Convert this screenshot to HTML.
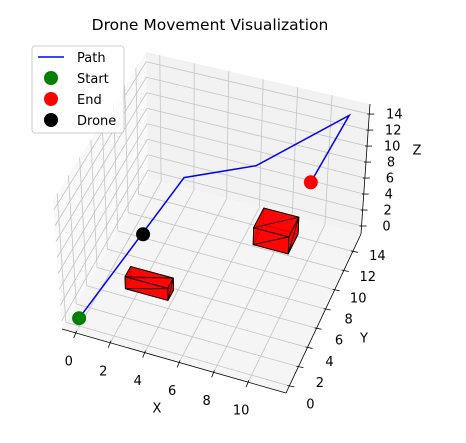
<!DOCTYPE html>
<html><head><meta charset="utf-8"><style>
html,body{margin:0;padding:0;background:#fff;}
svg{display:block;font-family:"DejaVu Sans","Liberation Sans",sans-serif;}
</style></head><body>
<svg id="chart" width="466" height="443" viewBox="0 0 466 443" xmlns="http://www.w3.org/2000/svg">
<text x="210" y="30" font-size="15.5" text-anchor="middle" fill="#000">Drone Movement Visualization</text>
<g id="panes"></g>
<g id="grid"></g>
<g id="axes"></g>
<g id="data"></g>
<g>
<rect x="32" y="46" width="92" height="87" rx="3" fill="#fff" fill-opacity="0.85" stroke="#ccc" stroke-width="1"/>
<line x1="38" y1="57" x2="64" y2="57" stroke="#0000ff" stroke-width="1.5"/>
<text x="77" y="62" font-size="13">Path</text>
<circle cx="51" cy="78" r="7" fill="#008000"/>
<text x="77" y="83" font-size="13">Start</text>
<circle cx="51" cy="99" r="7" fill="#ff0000"/>
<text x="77" y="104" font-size="13">End</text>
<circle cx="51" cy="120" r="7" fill="#000"/>
<text x="77" y="125" font-size="13">Drone</text>
</g>
</svg>
<script>
const xTicks=[0,2,4,6,8,10];
const yTicks=[0,2,4,6,8,10,12,14];
const zTicks=[0,2,4,6,8,10,12,14];
const pathX=[0,3.2,7,11.2,10];
const pathY=[0,10,11.3,15.2,12];
const pathZ=[0,8,10,14,8.7];
const startPt=[0,0,0];
const endPt=[10,12,8.7];
const dronePt=[2,6,4.8];
const obstacleMin=[[1.5,4.0,0],[6.9,11.4,0]];
const obstacleSize=[[2.5,1.1,1.5],[2.1,2.1,2.1]];

const X0=-0.8,X1=12.2,Y0=-0.74,Y1=15.8,Z0=-1.0,Z1=15.26;
const C={'000':[62,329],'100':[286,393],'010':[148,178],'110':[361,234],
'001':[53,200],'101':[290,252],'011':[146,52],'111':[370,104]};
function P(x,y,z){
 const u=(x-X0)/(X1-X0),v=(y-Y0)/(Y1-Y0),w=(z-Z0)/(Z1-Z0);
 let px=0,py=0;
 for(const a of [0,1])for(const b of [0,1])for(const c of [0,1]){
  const wt=(a?u:1-u)*(b?v:1-v)*(c?w:1-w);const p=C[''+a+b+c];px+=wt*p[0];py+=wt*p[1];}
 return [px,py];
}
const NS='http://www.w3.org/2000/svg';
function mk(tag,attrs,parent){const e=document.createElementNS(NS,tag);for(const k in attrs)e.setAttribute(k,attrs[k]);parent.appendChild(e);return e;}
function pts(a){return a.map(p=>p[0].toFixed(1)+','+p[1].toFixed(1)).join(' ');}
const panes=document.getElementById('panes'),grid=document.getElementById('grid'),axes=document.getElementById('axes'),data=document.getElementById('data');
let e;
e=mk('polygon',{points:pts([P(X0,Y0,Z0),P(X0,Y1,Z0),P(X0,Y1,Z1),P(X0,Y0,Z1)]),fill:'#f9f9f9'},panes);


e=mk('polygon',{points:pts([P(X0,Y1,Z0),P(X1,Y1,Z0),P(X1,Y1,Z1),P(X0,Y1,Z1)]),fill:'#f2f2f2'},panes);


e=mk('polygon',{points:pts([P(X0,Y0,Z0),P(X1,Y0,Z0),P(X1,Y1,Z0),P(X0,Y1,Z0)]),fill:'#f5f5f5'},panes);


function gl(a,b){const l=mk('line',{x1:a[0],y1:a[1],x2:b[0],y2:b[1],stroke:'#c4c4c4','stroke-width':0.8},grid);
 
 }
xTicks.forEach(x=>{gl(P(x,Y0,Z0),P(x,Y1,Z0));gl(P(x,Y1,Z0),P(x,Y1,Z1));});
yTicks.forEach(y=>{gl(P(X0,y,Z0),P(X1,y,Z0));gl(P(X0,y,Z0),P(X0,y,Z1));});
zTicks.forEach(z=>{gl(P(X0,Y1,z),P(X1,Y1,z));gl(P(X0,Y0,z),P(X0,Y1,z));});
function al(a,b,name){const l=mk('line',{x1:a[0],y1:a[1],x2:b[0],y2:b[1],stroke:'#000','stroke-width':0.8},axes);
 
 }
al(P(X0,Y0,Z0),P(X1,Y0,Z0),'x-axis-line');
al(P(X1,Y0,Z0),P(X1,Y1,Z0),'y-axis-line');
al(P(X1,Y1,Z0),P(X1,Y1,Z1),'z-axis-line');
function tick(p,dx,dy,name){const l=mk('line',{x1:p[0]-dx*0.4,y1:p[1]-dy*0.4,x2:p[0]+dx,y2:p[1]+dy,stroke:'#000','stroke-width':0.8},axes);
 
 }
function lab(x,y,s,name){const t=mk('text',{x:x,y:y+4.5,'font-size':13,'text-anchor':'middle',fill:'#000'},axes);t.textContent=s;
 
 }
xTicks.forEach(x=>{const p=P(x,Y0,Z0);tick(p,-2,5,'x-tick');lab(p[0]-7,p[1]+28,String(x),'x-tick-label');});
yTicks.forEach(y=>{const p=P(X1,y,Z0);tick(p,5,1,'y-tick');lab(p[0]+21+y*0.25,p[1]+18-y*1.0,String(y),'y-tick-label');});
zTicks.forEach(z=>{const p=P(X1,Y1,z);tick(p,5,0,'z-tick');lab(p[0]+25,p[1],String(z),'z-tick-label');});
lab(157,408,'X','x-axis-title');lab(364,338,'Y','y-axis-title');lab(417,150,'Z','z-axis-title');
obstacleMin.forEach((m,i)=>{
 const s=obstacleSize[i];const xa=m[0],ya=m[1],za=m[2],xb=m[0]+s[0],yb=m[1]+s[1],zb=m[2]+s[2];
 const faces=[
  [[xa,ya,za],[xb,ya,za],[xb,yb,za],[xa,yb,za]],
  [[xa,yb,za],[xb,yb,za],[xb,yb,zb],[xa,yb,zb]],
  [[xb,ya,za],[xb,yb,za],[xb,yb,zb],[xb,ya,zb]],
  [[xa,ya,za],[xa,yb,za],[xa,yb,zb],[xa,ya,zb]],
  [[xa,ya,za],[xb,ya,za],[xb,ya,zb],[xa,ya,zb]],
  [[xa,ya,zb],[xb,ya,zb],[xb,yb,zb],[xa,yb,zb]]];
 const g=mk('g',{},data);
 
 
 faces.forEach(f=>{const q=f.map(c=>P(c[0],c[1],c[2]));
  const pg=mk('polygon',{points:pts(q),fill:'#ff0000','fill-opacity':0.85,stroke:'#000','stroke-width':0.9,'stroke-linejoin':'round'},g);
  
  
  const d=mk('line',{x1:q[0][0],y1:q[0][1],x2:q[2][0],y2:q[2][1],stroke:'#000','stroke-width':0.8},g);
  
  });
});
const pp=pathX.map((x,i)=>P(x,pathY[i],pathZ[i]));
e=mk('polyline',{points:pts(pp),fill:'none',stroke:'#0000ff','stroke-width':1.5},data);


function dot(pt,col,name){const p=P(pt[0],pt[1],pt[2]);const c=mk('circle',{cx:p[0],cy:p[1],r:7,fill:col},data);
 
 }
dot(startPt,'#008000','start-marker');
dot(endPt,'#ff0000','end-marker');
dot(dronePt,'#000000','drone-marker');
</script>
</body></html>
